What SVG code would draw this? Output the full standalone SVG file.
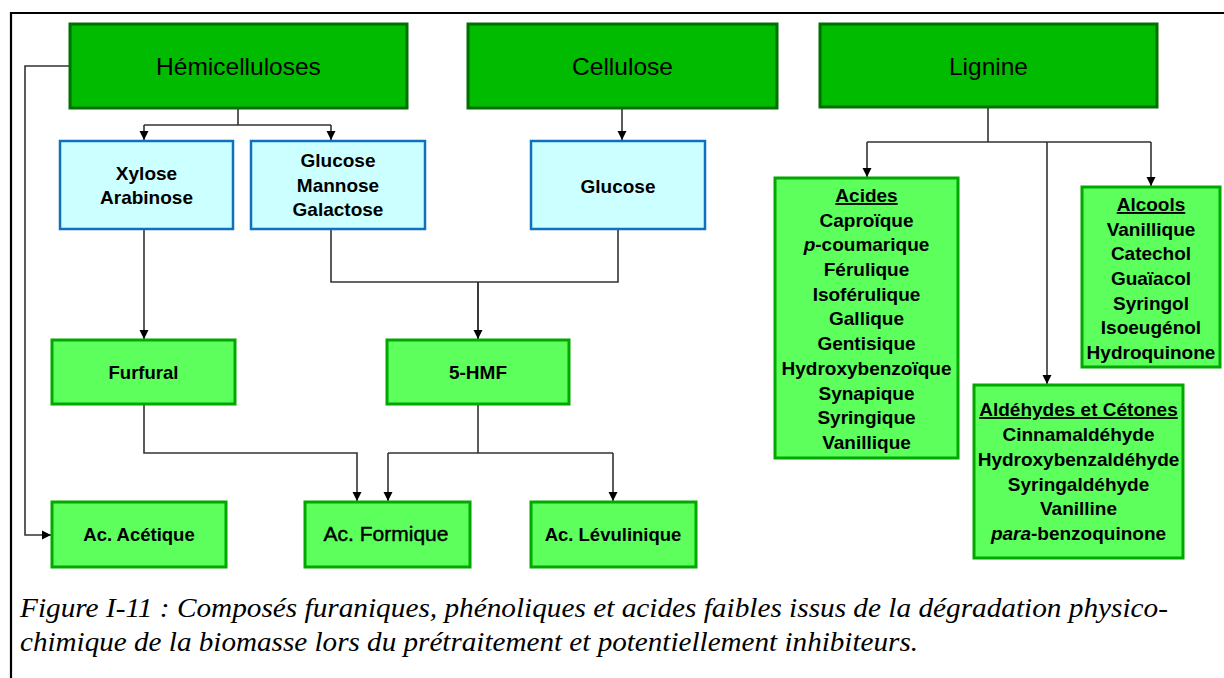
<svg xmlns="http://www.w3.org/2000/svg" width="1224" height="678" viewBox="0 0 1224 678">
<style>
.dk{fill:#00BB00;stroke:#007000;stroke-width:3}
.bl{fill:#CCFFFF;stroke:#1070C0;stroke-width:2.5}
.lg{fill:#5CFF5C;stroke:#00A800;stroke-width:3}
.t1{font-family:"Liberation Sans",Arial,sans-serif;font-size:24.5px;fill:#000;text-anchor:middle}
.t2{font-family:"Liberation Sans",Arial,sans-serif;font-size:21px;fill:#000;stroke:#000;stroke-width:0.45px;text-anchor:middle}
.tb{font-family:"Liberation Sans",Arial,sans-serif;font-size:19px;font-weight:bold;fill:#000;text-anchor:middle}
.tf{font-family:"Liberation Sans",Arial,sans-serif;font-size:18.5px;font-weight:bold;fill:#000;text-anchor:middle}
.cap{font-family:"Liberation Serif","Times New Roman",serif;font-size:28px;font-style:italic;fill:#000}
.cn{fill:none;stroke:#333;stroke-width:1.6}
</style>
<defs>
<marker id="ah" markerWidth="10" markerHeight="10" refX="9" refY="5" orient="auto" markerUnits="userSpaceOnUse">
<path d="M0,0.5 L9,5 L0,9.5 Z" fill="#000"/>
</marker>
</defs>
<rect width="1224" height="678" fill="#fff"/>
<path d="M11,678 V13 H1224" fill="none" stroke="#000" stroke-width="2.2"/>

<g id="connectors">
<path class="cn" d="M238,108 V125 M144,125 H331" />
<path class="cn" d="M144,125 V140" marker-end="url(#ah)"/>
<path class="cn" d="M331,125 V140" marker-end="url(#ah)"/>
<path class="cn" d="M622,108 V140" marker-end="url(#ah)"/>
<path class="cn" d="M988,107 V142 M867,142 H1151"/>
<path class="cn" d="M867,142 V177" marker-end="url(#ah)"/>
<path class="cn" d="M1151,142 V186" marker-end="url(#ah)"/>
<path class="cn" d="M1047,142 V384" marker-end="url(#ah)"/>
<path class="cn" d="M144,229 V339" marker-end="url(#ah)"/>
<path class="cn" d="M331,229 V282 H618 V229 M478,282 V339"/>
<path class="cn" d="M478,282 V339" marker-end="url(#ah)"/>
<path class="cn" d="M144,404 V453 H357 V501" marker-end="url(#ah)"/>
<path class="cn" d="M478,404 V453 M388,453 H613"/>
<path class="cn" d="M388,453 V501" marker-end="url(#ah)"/>
<path class="cn" d="M613,453 V501" marker-end="url(#ah)"/>
<path class="cn" d="M70,66 H25 V535 H51" marker-end="url(#ah)"/>
</g>

<g id="hemicelluloses"><rect class="dk" x="70" y="24" width="337" height="84"/><text class="t1" x="238.5" y="75">Hémicelluloses</text></g>
<g id="cellulose"><rect class="dk" x="468" y="24" width="309" height="84"/><text class="t1" x="622.5" y="75">Cellulose</text></g>
<g id="lignine"><rect class="dk" x="820" y="24" width="337" height="83"/><text class="t1" x="988.5" y="75">Lignine</text></g>

<g id="xylose"><rect class="bl" x="60" y="141" width="173" height="88"/><text class="tb" x="146.5" y="180">Xylose</text><text class="tb" x="146.5" y="204">Arabinose</text></g>
<g id="glucose-mannose"><rect class="bl" x="251" y="141" width="174" height="88"/><text class="tb" x="338" y="167">Glucose</text><text class="tb" x="338" y="192">Mannose</text><text class="tb" x="338" y="216">Galactose</text></g>
<g id="glucose"><rect class="bl" x="531" y="141" width="174" height="88"/><text class="tb" x="618" y="193">Glucose</text></g>

<g id="furfural"><rect class="lg" x="52" y="340" width="183" height="64"/><text class="tf" x="143.5" y="379">Furfural</text></g>
<g id="hmf"><rect class="lg" x="387" y="340" width="182" height="64"/><text class="tb" x="478" y="379">5-HMF</text></g>

<g id="acetique"><rect class="lg" x="52" y="502" width="174" height="65"/><text class="tf" x="139" y="541">Ac. Acétique</text></g>
<g id="formique"><rect class="lg" x="305" y="502" width="165" height="65"/><text class="t2" x="386" y="541">Ac. Formique</text></g>
<g id="levulinique"><rect class="lg" x="531" y="502" width="165" height="65"/><text class="tf" x="613" y="541">Ac. Lévulinique</text></g>

<g id="acides"><rect class="lg" x="775" y="178" width="183" height="280"/>
<text class="tb" x="866.5" y="202" text-decoration="underline">Acides</text>
<text class="tb" x="866.5" y="227">Caproïque</text>
<text class="tb" x="866.5" y="251"><tspan font-style="italic">p</tspan>-coumarique</text>
<text class="tb" x="866.5" y="276">Férulique</text>
<text class="tb" x="866.5" y="300.5">Isoférulique</text>
<text class="tb" x="866.5" y="325">Gallique</text>
<text class="tb" x="866.5" y="350">Gentisique</text>
<text class="tb" x="866.5" y="374.5">Hydroxybenzoïque</text>
<text class="tb" x="866.5" y="399.5">Synapique</text>
<text class="tb" x="866.5" y="424">Syringique</text>
<text class="tb" x="866.5" y="449">Vanillique</text>
</g>

<g id="alcools"><rect class="lg" x="1082" y="187" width="138" height="180"/>
<text class="tb" x="1151" y="211" text-decoration="underline">Alcools</text>
<text class="tb" x="1151" y="235.5">Vanillique</text>
<text class="tb" x="1151" y="260">Catechol</text>
<text class="tb" x="1151" y="285">Guaïacol</text>
<text class="tb" x="1151" y="309.5">Syringol</text>
<text class="tb" x="1151" y="334">Isoeugénol</text>
<text class="tb" x="1151" y="358.5">Hydroquinone</text>
</g>

<g id="aldehydes"><rect class="lg" x="974" y="385" width="209" height="173"/>
<text class="tb" x="1078.5" y="416" text-decoration="underline">Aldéhydes et Cétones</text>
<text class="tb" x="1078.5" y="441">Cinnamaldéhyde</text>
<text class="tb" x="1078.5" y="466">Hydroxybenzaldéhyde</text>
<text class="tb" x="1078.5" y="490.5">Syringaldéhyde</text>
<text class="tb" x="1078.5" y="515">Vanilline</text>
<text class="tb" x="1078.5" y="540"><tspan font-style="italic">para</tspan>-benzoquinone</text>
</g>

<text class="cap" x="20" y="617" textLength="1148" lengthAdjust="spacingAndGlyphs">Figure I-11 : Composés furaniques, phénoliques et acides faibles issus de la dégradation physico-</text>
<text class="cap" x="20" y="651" textLength="898" lengthAdjust="spacingAndGlyphs">chimique de la biomasse lors du prétraitement et potentiellement inhibiteurs.</text>
</svg>
